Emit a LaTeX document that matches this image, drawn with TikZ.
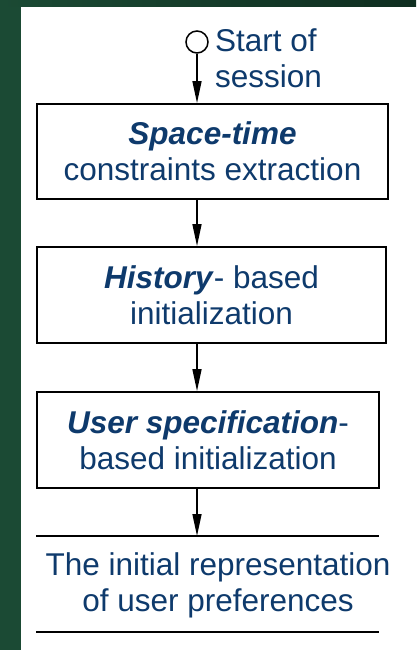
\documentclass[tikz,border=0pt]{standalone}
\usepackage{fontspec}
\setmainfont{Liberation Sans}
\usetikzlibrary{arrows.meta,positioning}
\definecolor{slidegreen}{HTML}{1B4A34}
\definecolor{slidedark}{HTML}{0F2E20}
\definecolor{textblue}{HTML}{0E3A6C}
\begin{document}
\begin{tikzpicture}[x=1pt, y=-1pt,
				stepbox/.style={draw, line width=1.8pt, text=textblue, align=center, inner sep=0pt},
				label/.style={text=textblue, font=\fontsize{31.5}{36}\selectfont},
				arr/.style={line width=1.5pt, -{Triangle[length=22pt, width=9pt]}},
				>=stealth]
				\useasboundingbox (0,0) rectangle (416,650);
				\fill[slidegreen] (0,0) rectangle (416,650);
				\shade[left color=slidegreen, right color=slidedark] (0,0) rectangle (416,7);
				\fill[white] (21,7) rectangle (416,650);
				\node[draw, circle, line width=1.5pt, minimum size=22pt, inner sep=0pt] (start) at (197,42) {};
				\node[label, align=left, anchor=west, inner sep=0pt] (startlbl) at (215,58) {Start of\\session};
				\node[stepbox, label, minimum width=351pt, minimum height=95pt] (space) at (212.5,151.5) {\textbf{\textit{Space-time}}\\constraints extraction};
				\node[stepbox, label, minimum width=349pt, minimum height=96pt] (history) at (211.5,295) {\textbf{\textit{History}}- based\\initialization};
				\node[stepbox, label, minimum width=342pt, minimum height=96pt] (user) at (208,440) {\textbf{\textit{User specification}}-\\based initialization};
				% output between two rules
				\coordinate (topleft) at (36,536);
				\coordinate (topright) at (379,536);
				\coordinate (botleft) at (36,632);
				\coordinate (botright) at (379,632);
				\node[label, align=center, inner sep=0pt] (result) at (218,585) {The initial representation\\of user preferences};
				\draw[line width=1.8pt] (topleft) -- (topright);
				\draw[line width=1.8pt] (botleft) -- (botright);
				\draw[arr] (start) -- (start |- space.north);
				\draw[arr] (start |- space.south) -- (start |- history.north);
				\draw[arr] (start |- history.south) -- (start |- user.north);
				\draw[arr] (start |- user.south) -- (start |- topleft);
			\end{tikzpicture}
\end{document}
